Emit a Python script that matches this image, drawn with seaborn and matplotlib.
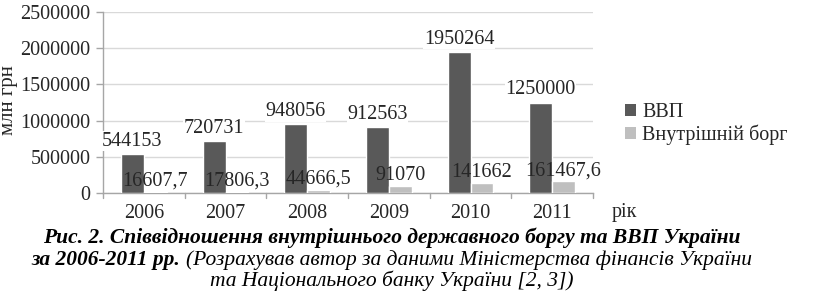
import matplotlib
matplotlib.use("Agg")
import matplotlib.pyplot as plt
import seaborn as sns
import pandas as pd
from matplotlib.patches import Patch

# ---- data ----
years = ["2006", "2007", "2008", "2009", "2010", "2011"]
gdp = [544153, 720731, 948056, 912563, 1950264, 1250000]
debt = [16607.7, 17806.3, 44666.5, 91070, 141662, 161467.6]
series_names = ["ВВП", "Внутрішній борг"]
y_ticks = [0, 500000, 1000000, 1500000, 2000000, 2500000]
y_label = "млн грн"
x_label = "рік"
caption_line1 = "Рис. 2. Співвідношення внутрішнього державного боргу та ВВП України"
caption_line2_bold = "за 2006-2011 рр. "
caption_line2_regular = "(Розрахував автор за даними Міністерства фінансів України"
caption_line3 = "та Національного банку України [2, 3])"

colors = ["#595959", "#BFBFBF"]
text_color = "#262626"

df = pd.DataFrame({
    "year": years * 2,
    "value": gdp + debt,
    "series": [series_names[0]] * len(years) + [series_names[1]] * len(years),
})

sns.set_theme(style="white")
plt.rcParams["font.family"] = ["Liberation Serif", "DejaVu Serif"]

W, H = 813, 297
fig = plt.figure(figsize=(W / 100, H / 100), dpi=100)
ax = fig.add_axes([103 / W, 1 - 193 / H, (593 - 103) / W, (193 - 12) / H])

sns.barplot(data=df, x="year", y="value", hue="series", palette=colors,
            width=0.56, gap=0, saturation=1, ax=ax, legend=False, zorder=3)

ax.set_xlim(-0.5, len(years) - 0.5)
ax.set_ylim(0, 2500000)
ax.set_yticks(y_ticks)
ax.set_yticklabels([str(t) for t in y_ticks], fontsize=14.5, color=text_color)
ax.set_xticks(range(len(years)))
ax.set_xticklabels(years, fontsize=14.5, color=text_color)
ax.tick_params(axis="x", length=0, pad=8)
ax.tick_params(axis="y", length=5, color="#A6A6A6", width=1, pad=4, left=True)
ax.set_xlabel("")
ax.set_ylabel("")
ax.grid(axis="y", color="#D9D9D9", linewidth=1, zorder=0)
ax.set_axisbelow(True)
for s in ["top", "right"]:
    ax.spines[s].set_visible(False)
for s in ["left", "bottom"]:
    ax.spines[s].set_color("#A6A6A6")
    ax.spines[s].set_linewidth(1)
# category separator ticks (Excel style)
for b in range(len(years) + 1):
    ax.plot([b - 0.5, b - 0.5], [0, -0.025], transform=ax.get_xaxis_transform(),
            color="#A6A6A6", lw=1, clip_on=False)

def fmt(v):
    if float(v).is_integer():
        return str(int(v))
    return str(v).replace(".", ",")

# data labels
for i, c in enumerate(ax.containers):
    for rect, v in zip(c, (gdp, debt)[i]):
        cx = rect.get_x() + rect.get_width() / 2
        top = rect.get_height()
        ax.annotate(fmt(v), (cx, top), xytext=(0, 9 if i == 0 else 7.5),
                    textcoords="offset points", ha="center", va="center",
                    fontsize=14.5, color=text_color, zorder=5,
                    bbox=dict(facecolor="white", edgecolor="none", pad=0.5) if i == 0 else None)

# y label
fig.text(9 / W, 1 - 100 / H, y_label, rotation=90, ha="center", va="center",
         fontsize=15, color=text_color)
# x label
fig.text(612 / W, 1 - 212 / H, x_label, ha="left", va="center",
         fontsize=14.5, color=text_color)

# legend
handles = [Patch(facecolor=c, edgecolor="none") for c in colors]
fig.legend(handles, series_names, loc="center left",
           bbox_to_anchor=(617 / W, 1 - 124 / H), frameon=False,
           fontsize=14.5, handlelength=0.55, handleheight=0.55,
           handletextpad=0.3, labelspacing=0.1, borderaxespad=0,
           labelcolor=text_color)

# caption
cap_size = 15.5
cx = 392 / W
fig.text(cx, 1 - 238 / H, caption_line1, ha="center", va="center",
         fontsize=cap_size, fontweight="bold", fontstyle="italic", color="black")
fig.canvas.draw()
r = fig.canvas.get_renderer()
tb = fig.text(0, 1 - 260 / H, caption_line2_bold, ha="left", va="center",
              fontsize=cap_size, fontweight="bold", fontstyle="italic", color="black")
tr = fig.text(0, 1 - 260 / H, caption_line2_regular, ha="left", va="center",
              fontsize=cap_size, fontstyle="italic", color="black")
wb = tb.get_window_extent(r).width
wr = tr.get_window_extent(r).width
x0 = cx * W - (wb + wr) / 2
tb.set_x(x0 / W)
tr.set_x((x0 + wb) / W)
fig.text(cx, 1 - 281 / H, caption_line3, ha="center", va="center",
         fontsize=cap_size, fontstyle="italic", color="black")

fig.savefig("out.png", dpi=100)
